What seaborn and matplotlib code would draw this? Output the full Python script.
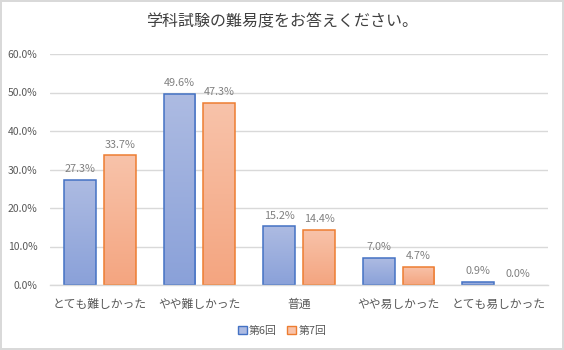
import numpy as np
import pandas as pd
import matplotlib
matplotlib.use("Agg")
import matplotlib.pyplot as plt
import matplotlib.colors as mcolors
from matplotlib.patches import Patch
import seaborn as sns

categories = ["とても難しかった", "やや難しかった", "普通", "やや易しかった", "とても易しかった"]
series = ["第6回", "第7回"]
round6 = [27.3, 49.6, 15.2, 7.0, 0.9]
round7 = [33.7, 47.3, 14.4, 4.7, 0.0]
yticks = [0, 10, 20, 30, 40, 50, 60]

df = pd.DataFrame({
    "category": categories * 2,
    "round": [series[0]] * len(categories) + [series[1]] * len(categories),
    "value": round6 + round7,
})

sns.set_theme(style="white")
plt.rcParams["font.family"] = ["Noto Sans CJK JP", "DejaVu Sans"]

edge_colors = {series[0]: "#4472c4", series[1]: "#ed7d31"}
grad_colors = {series[0]: ("#adbbe2", "#8aa1d9"), series[1]: ("#f8c3aa", "#f4a580")}

fig = plt.figure(figsize=(5.64, 3.5), dpi=100)
fig.patch.set_facecolor("white")
fig.patch.set_edgecolor("#d9d9d9")
fig.patch.set_linewidth(1.5)
ax = fig.add_axes([50 / 564, 65 / 350, 498 / 564, 231 / 350])

sns.barplot(data=df, x="category", y="value", hue="round", order=categories,
            hue_order=series, palette=edge_colors, width=0.8, gap=0.2,
            legend=False, ax=ax, errorbar=None)

ax.set_ylim(0, 60)
ax.set_xlim(-0.5, len(categories) - 0.5)
ax.set_yticks(yticks)
ax.set_yticklabels([f"{v:.1f}%" for v in yticks])
ax.set_xlabel("")
ax.set_ylabel("")
ax.yaxis.grid(True, color="#d9d9d9", linewidth=1)
ax.set_axisbelow(True)
for s in ["top", "right", "left"]:
    ax.spines[s].set_visible(False)
ax.spines["bottom"].set_color("#d9d9d9")
ax.spines["bottom"].set_linewidth(1)
ax.tick_params(axis="both", length=0)
ax.tick_params(axis="y", labelsize=7.5, labelcolor="#595959", pad=9)
ax.tick_params(axis="x", labelsize=8.5, labelcolor="#595959", pad=9)

# vertical gradient fill inside each bar, outlined in the series colour
for container, name in zip(ax.containers, series):
    top, bottom = grad_colors[name]
    cmap = mcolors.LinearSegmentedColormap.from_list(name, [bottom, top])
    grad = np.linspace(0, 1, 128).reshape(-1, 1)
    for bar in container:
        x0, y0 = bar.get_x(), bar.get_y()
        w, h = bar.get_width(), bar.get_height()
        bar.set_facecolor("none")
        bar.set_edgecolor(edge_colors[name])
        bar.set_linewidth(1.1 if h > 0 else 0)
        if h > 0:
            im = ax.imshow(grad, cmap=cmap, origin="lower", aspect="auto",
                           extent=(x0, x0 + w, y0, y0 + h), zorder=bar.get_zorder() - 0.1)
            im.set_clip_path(bar)
    ax.bar_label(container, labels=[f"{v:.1f}%" for v in container.datavalues],
                 padding=4, fontsize=7.8, color="#808080")
ax.set_xlim(-0.5, len(categories) - 0.5)
ax.set_ylim(0, 60)

fig.text(0.5, 1 - 22 / 350, "学科試験の難易度をお答えください。", ha="center", va="center",
         fontsize=11.5, color="#404040")

handles = [Patch(facecolor=grad_colors[n][0], edgecolor=edge_colors[n], linewidth=1) for n in series]
fig.legend(handles, series, loc="center", bbox_to_anchor=(0.5, 1 - 331 / 350), ncol=2,
           frameon=False, fontsize=7.8, labelcolor="#595959", handlelength=0.8,
           handleheight=0.8, handletextpad=0.2, columnspacing=1.0)

fig.savefig("out.png", dpi=100)
